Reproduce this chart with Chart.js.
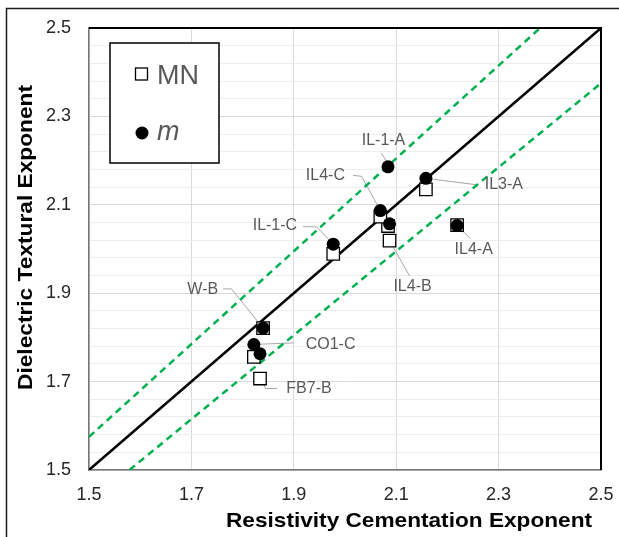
<!DOCTYPE html>
<html><head><meta charset="utf-8">
<script src="https://cdn.jsdelivr.net/npm/chart.js@4"></script>
<style>html,body{margin:0;padding:0;background:#fff;} canvas{display:block;}</style>
</head><body>
<canvas id="c" width="619" height="537"></canvas>
<script>
// ---- data ----
const samples = ['IL-1-A','IL3-A','IL4-C','IL4-B','IL4-A','IL-1-C','W-B','CO1-C','FB7-B'];
const cementation = [2.084, 2.158, 2.069, 2.087, 2.219, 1.977, 1.840, 1.822, 1.834];
const mValues     = [2.186, 2.160, 2.087, 2.057, 2.053, 2.011, 1.821, 1.784, 1.763];
const mnValues    = [2.052, 2.135, 2.073, 2.019, 2.054, 1.989, 1.821, 1.756, 1.707];
const oneToOneX = [1.5, 2.5];
const oneToOneY = [1.5, 2.5];
const upperBandX = [1.5, 2.381];
const upperBandY = [1.575, 2.5];
const lowerBandX = [1.579, 2.5];
const lowerBandY = [1.5, 2.375];
const xTickLabels = ['1.5','1.7','1.9','2.1','2.3','2.5'];
const yTickLabels = ['1.5','1.7','1.9','2.1','2.3','2.5'];
const yMinorPerMajor = 5;
const xTitle = 'Resistivity Cementation Exponent';
const yTitle = 'Dielectric Textural Exponent';
const legendNames = ['MN', 'm'];

// ---- label layout (pixel offsets from anchored marker) ----
const labelLayout = {
  'IL-1-A': {anchor:'m',  text:[-4.5,-25.9], leader:[[-6.6,-13.7],[-1.8,-5.7]]},
  'IL3-A':  {anchor:'m',  text:[78,6.4],     leader:[[0,0],[52,6.7]]},
  'IL4-C':  {anchor:'m',  text:[-54.9,-34.9],leader:[[-27.2,-35.2],[-18.7,-34.2],[0,0]]},
  'IL4-B':  {anchor:'mn', text:[23,46],      leader:[[0,0],[20,35.3]]},
  'IL4-A':  {anchor:'m',  text:[16.6,24.3],  leader:[[5,5],[13.3,13]]},
  'IL-1-C': {anchor:'m',  text:[-58.3,-18.2],leader:[[-30.3,-17.5],[-16.6,-17.3],[0,0]]},
  'W-B':    {anchor:'m',  text:[-60.3,-38.8],leader:[[-40,-39.2],[-31.6,-39.2],[0,0]]},
  'CO1-C':  {anchor:'m',  text:[76.7,-0.3],  leader:[[0,0],[40,-1.6]]},
  'FB7-B':  {anchor:'mn', text:[49,10.4],    leader:[[0,0],[5.7,10],[17,10]]}
};

const FONT = '"Liberation Sans", Arial, sans-serif';
const pts = (xs, ys) => xs.map((x,i)=>({x, y: ys[i]}));

const decor = {
  id: 'decor',
  beforeDatasetsDraw(chart) {
    const {ctx, scales:{x, y}} = chart;
    ctx.save();
    ctx.strokeStyle = '#a6a6a6'; ctx.lineWidth = 1;
    samples.forEach((s,i) => {
      const L = labelLayout[s];
      const px = x.getPixelForValue(cementation[i]);
      const py = y.getPixelForValue(L.anchor === 'm' ? mValues[i] : mnValues[i]);
      ctx.beginPath();
      L.leader.forEach((p,j) => { const X = px+p[0], Y = py+p[1]; j ? ctx.lineTo(X,Y) : ctx.moveTo(X,Y); });
      ctx.stroke();
    });
    ctx.restore();
  },
  afterDatasetsDraw(chart) {
    const {ctx, chartArea:a, scales:{x, y}} = chart;
    ctx.save();
    ctx.strokeStyle = '#000'; ctx.lineWidth = 2;
    ctx.beginPath(); ctx.moveTo(a.left, a.top); ctx.lineTo(a.right, a.top); ctx.lineTo(a.right, a.bottom); ctx.stroke();
    ctx.fillStyle = '#595959'; ctx.font = '16px ' + FONT;
    ctx.textAlign = 'center'; ctx.textBaseline = 'middle';
    samples.forEach((s,i) => {
      const L = labelLayout[s];
      const px = x.getPixelForValue(cementation[i]);
      const py = y.getPixelForValue(L.anchor === 'm' ? mValues[i] : mnValues[i]);
      ctx.fillText(s, px + L.text[0], py + L.text[1]);
    });
    ctx.restore();
  },
  afterDraw(chart) {
    const {ctx, chartArea:a} = chart;
    ctx.save();
    const lx = a.left + 21, ly = a.top + 15, lw = 109, lh = 120;
    ctx.strokeStyle = '#000'; ctx.lineWidth = 1.5;
    ctx.fillStyle = '#fff';
    ctx.fillRect(lx, ly, lw, lh); ctx.strokeRect(lx, ly, lw, lh);
    ctx.lineWidth = 1.3; ctx.strokeStyle = '#000';
    ctx.strokeRect(lx + 25.5, ly + 25, 12, 12);
    ctx.fillStyle = '#000';
    ctx.beginPath(); ctx.arc(lx + 32, ly + 90, 6.5, 0, Math.PI*2); ctx.fill();
    ctx.fillStyle = '#595959'; ctx.textAlign = 'left'; ctx.textBaseline = 'alphabetic';
    ctx.font = '27px ' + FONT;
    ctx.fillText(legendNames[0], lx + 47, ly + 41);
    ctx.font = 'italic 27px ' + FONT;
    ctx.fillText(legendNames[1], lx + 47, ly + 97);
    ctx.fillStyle = '#000'; ctx.font = 'bold 21px ' + FONT;
    ctx.textAlign = 'center'; ctx.textBaseline = 'middle';
    let w = ctx.measureText(xTitle).width;
    ctx.save(); ctx.translate(409, 521.5); ctx.scale(366 / w, 1); ctx.fillText(xTitle, 0, 0); ctx.restore();
    w = ctx.measureText(yTitle).width;
    ctx.save(); ctx.translate(26, 237.5); ctx.rotate(-Math.PI/2); ctx.scale(305 / w, 1); ctx.fillText(yTitle, 0, 0); ctx.restore();
    ctx.strokeStyle = '#1a1a1a'; ctx.lineWidth = 1.5;
    ctx.beginPath(); ctx.moveTo(619, 8.5); ctx.lineTo(6.5, 8.5); ctx.lineTo(6.5, 537); ctx.stroke();
    ctx.restore();
  }
};

new Chart(document.getElementById('c'), {
  type: 'scatter',
  data: {
    datasets: [
      { label: legendNames[1], data: pts(cementation, mValues), order: 0,
        pointStyle: 'circle', pointRadius: 6.5, pointHoverRadius: 6.5,
        backgroundColor: '#000', borderColor: '#000', borderWidth: 0 },
      { label: legendNames[0], data: pts(cementation, mnValues), order: 1,
        pointStyle: 'rect', pointRadius: 8.8, pointHoverRadius: 8.8,
        backgroundColor: '#fff', borderColor: '#000', borderWidth: 1.3 },
      { label: '1:1', data: pts(oneToOneX, oneToOneY), order: 2, showLine: true,
        borderColor: '#000', borderWidth: 2.5, pointRadius: 0 },
      { label: '+5%', data: pts(upperBandX, upperBandY), order: 3, showLine: true,
        borderColor: '#00B050', borderWidth: 2.5, borderDash: [7,5], pointRadius: 0 },
      { label: '-5%', data: pts(lowerBandX, lowerBandY), order: 4, showLine: true,
        borderColor: '#00B050', borderWidth: 2.5, borderDash: [7,5], pointRadius: 0 }
    ]
  },
  options: {
    responsive: false, devicePixelRatio: 1, animation: false,
    layout: { padding: { left: 0, top: 28, right: 18, bottom: 0 } },
    plugins: { legend: { display: false }, tooltip: { enabled: false } },
    scales: {
      x: {
        type: 'linear', min: 1.5, max: 2.5,
        afterFit: s => { s.height = 67; s.paddingLeft = 0; s.paddingRight = 0; },
        afterBuildTicks: s => { s.ticks = xTickLabels.map(v => ({value: parseFloat(v)})); },
        ticks: { padding: 14, color: '#262626', font: { family: FONT, size: 18 },
                 callback: (v, i) => xTickLabels[i], autoSkip: false, maxRotation: 0 },
        grid: { color: '#d9d9d9', lineWidth: 1, drawTicks: false },
        border: { color: '#767676', width: 1.5 }
      },
      y: {
        type: 'linear', min: 1.5, max: 2.5,
        afterFit: s => { s.width = 89; s.paddingTop = 0; s.paddingBottom = 0; },
        afterBuildTicks: s => {
          const majors = yTickLabels.map(parseFloat);
          const t = [];
          majors.forEach((v, k) => {
            t.push({value: v, major: true, label: yTickLabels[k]});
            if (k < majors.length - 1) {
              const step = (majors[k+1] - v) / yMinorPerMajor;
              for (let j = 1; j < yMinorPerMajor; j++) t.push({value: v + j*step, major: false});
            }
          });
          s.ticks = t;
        },
        ticks: { padding: 18, color: '#262626', font: { family: FONT, size: 18 },
                 autoSkip: false,
                 callback: function(v, i, ticks) { return ticks[i].major ? ticks[i].label : ''; } },
        grid: { drawTicks: false, lineWidth: 1,
                color: c => (c.tick && c.tick.major) ? '#d9d9d9' : '#eeeeee' },
        border: { color: '#767676', width: 1.5 }
      }
    }
  },
  plugins: [decor]
});
</script>
</body></html>
